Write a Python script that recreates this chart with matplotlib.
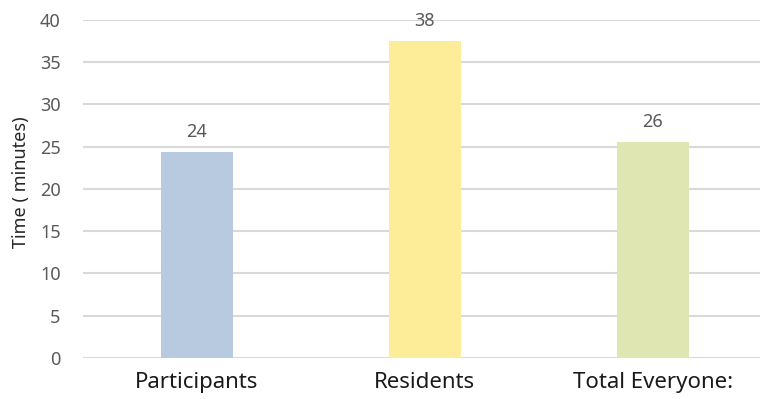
import matplotlib
matplotlib.use("Agg")
import matplotlib.pyplot as plt

# data
categories = ["Participants", "Residents", "Total Everyone:"]
minutes = [24.4, 37.5, 25.6]
value_labels = ["24", "38", "26"]
bar_colors = ["#B8CADF", "#FDEC98", "#DFE6B2"]
y_ticks = [0, 5, 10, 15, 20, 25, 30, 35, 40]

plt.rcParams["font.family"] = ["Noto Sans", "DejaVu Sans"]

fig = plt.figure(figsize=(7.6, 3.99), dpi=100)
ax = fig.add_axes([0.109, 0.103, 0.891, 0.847])

x = range(len(categories))
bars = ax.bar(x, minutes, width=0.316, color=bar_colors, zorder=3)

for b, lab in zip(bars, value_labels):
    ax.annotate(lab, (b.get_x() + b.get_width() / 2, b.get_height()),
                xytext=(0, 8), textcoords="offset points",
                ha="center", va="bottom", fontsize=13, color="#595959")

ax.set_xlim(-0.5, 2.47)
ax.set_ylim(0, 40)
ax.set_yticks(y_ticks)
ax.set_xticks(list(x))
ax.set_xticklabels(categories, fontsize=16, color="#1a1a1a")
ax.tick_params(axis="x", length=0, pad=10)
ax.tick_params(axis="y", length=0, labelsize=13, labelcolor="#595959", pad=16)
ax.yaxis.grid(True, color="#D9D9D9", linewidth=1.5, zorder=0)
for s in ax.spines.values():
    s.set_visible(False)
ax.set_ylabel("Time ( minutes)", fontsize=13, color="#262626")
ax.yaxis.set_label_coords(-0.078, 0.52)

fig.savefig("out.png", dpi=100)
